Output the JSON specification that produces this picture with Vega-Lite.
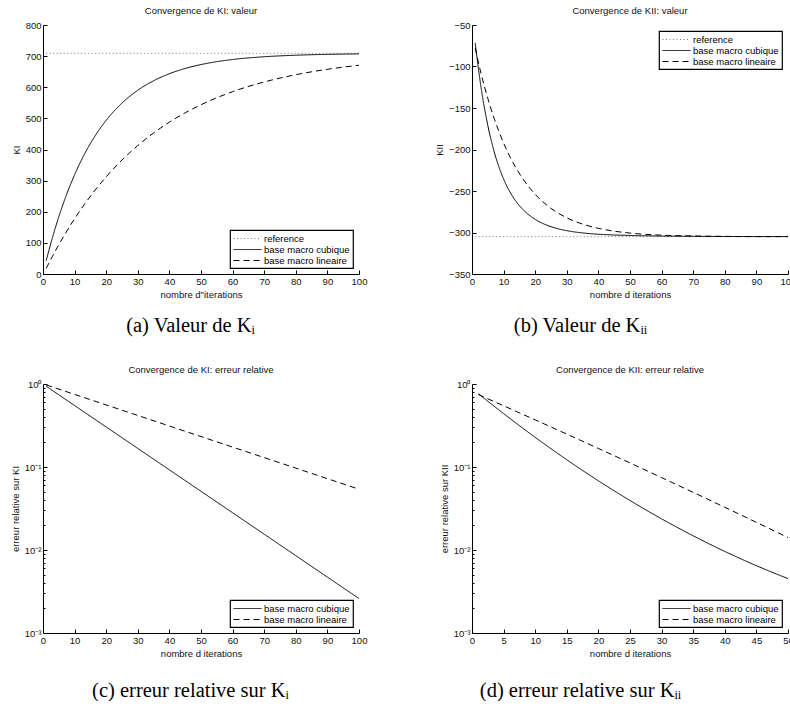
{
  "$schema": "https://vega.github.io/schema/vega-lite/v6.json",
  "padding": {"left": 10, "top": 5, "right": 0, "bottom": 0},
  "background": "#ffffff",
  "columns": 2,
  "spacing": {"row": 110, "column": 113},
  "bounds": "flush",
  "resolve": {"scale": {"color": "independent", "strokeDash": "independent"}, "legend": {"color": "independent", "strokeDash": "independent"}},
  "concat": [
    {
      "width": 316, "height": 249,
      "title": "Convergence de KI: valeur",
      "data": {"values": [
        {"it": 1, "v": 709, "s": "reference"}, {"it": 100, "v": 709, "s": "reference"},
        {"it": 1, "v": 42.5, "s": "base macro cubique"}, {"it": 3, "v": 117.3, "s": "base macro cubique"}, {"it": 5, "v": 183.7, "s": "base macro cubique"}, {"it": 7, "v": 242.6, "s": "base macro cubique"}, {"it": 10, "v": 318.9, "s": "base macro cubique"}, {"it": 13, "v": 382.6, "s": "base macro cubique"}, {"it": 16, "v": 436.0, "s": "base macro cubique"}, {"it": 20, "v": 493.8, "s": "base macro cubique"}, {"it": 25, "v": 549.2, "s": "base macro cubique"}, {"it": 30, "v": 590.3, "s": "base macro cubique"}, {"it": 35, "v": 620.8, "s": "base macro cubique"}, {"it": 40, "v": 643.5, "s": "base macro cubique"}, {"it": 45, "v": 660.4, "s": "base macro cubique"}, {"it": 50, "v": 672.9, "s": "base macro cubique"}, {"it": 55, "v": 682.2, "s": "base macro cubique"}, {"it": 60, "v": 689.1, "s": "base macro cubique"}, {"it": 70, "v": 698.0, "s": "base macro cubique"}, {"it": 80, "v": 702.9, "s": "base macro cubique"}, {"it": 90, "v": 705.7, "s": "base macro cubique"}, {"it": 100, "v": 707.2, "s": "base macro cubique"},
        {"it": 1, "v": 17.7, "s": "base macro lineaire"}, {"it": 3, "v": 57.0, "s": "base macro lineaire"}, {"it": 5, "v": 94.0, "s": "base macro lineaire"}, {"it": 7, "v": 128.9, "s": "base macro lineaire"}, {"it": 10, "v": 177.6, "s": "base macro lineaire"}, {"it": 13, "v": 222.2, "s": "base macro lineaire"}, {"it": 16, "v": 263.1, "s": "base macro lineaire"}, {"it": 20, "v": 312.3, "s": "base macro lineaire"}, {"it": 25, "v": 366.2, "s": "base macro lineaire"}, {"it": 30, "v": 412.8, "s": "base macro lineaire"}, {"it": 35, "v": 453.1, "s": "base macro lineaire"}, {"it": 40, "v": 487.9, "s": "base macro lineaire"}, {"it": 45, "v": 517.9, "s": "base macro lineaire"}, {"it": 50, "v": 543.9, "s": "base macro lineaire"}, {"it": 55, "v": 566.3, "s": "base macro lineaire"}, {"it": 60, "v": 585.8, "s": "base macro lineaire"}, {"it": 70, "v": 617.0, "s": "base macro lineaire"}, {"it": 80, "v": 640.3, "s": "base macro lineaire"}, {"it": 90, "v": 657.7, "s": "base macro lineaire"}, {"it": 100, "v": 670.7, "s": "base macro lineaire"}
      ]},
      "resolve": {"axis": {"x": "independent"}},
      "layer": [
        {
          "mark": {"type": "line", "strokeWidth": 1, "interpolate": "monotone"},
          "encoding": {
            "x": {"field": "it", "type": "quantitative", "scale": {"domain": [0, 100], "nice": false}, "axis": {"title": "nombre d\"iterations", "values": [0, 10, 20, 30, 40, 50, 60, 70, 80, 90, 100]}},
            "y": {"field": "v", "type": "quantitative", "scale": {"domain": [0, 800], "nice": false}, "axis": {"title": "KI", "values": [0, 100, 200, 300, 400, 500, 600, 700, 800]}},
            "strokeDash": {"field": "s", "type": "nominal", "scale": {"domain": ["reference", "base macro cubique", "base macro lineaire"], "range": [[1, 2.5], [1, 0], [6, 4]]}, "legend": {"orient": "bottom-right"}},
            "color": {"field": "s", "type": "nominal", "scale": {"domain": ["reference", "base macro cubique", "base macro lineaire"], "range": ["#777777", "#000000", "#000000"]}, "legend": {"orient": "bottom-right"}}
          }
        },
        {
          "mark": {"type": "point", "opacity": 0},
          "encoding": {
            "x": {"field": "it", "type": "quantitative", "axis": {"orient": "bottom", "title": "(a) Valeur de Kᵢ", "titleX": 147, "domain": false, "ticks": false, "labels": false, "titleFont": "Liberation Serif", "titleFontSize": 20.5, "titleColor": "#000000", "titlePadding": 41}}
          }
        }
      ]
    },
    {
      "width": 316, "height": 249,
      "title": "Convergence de KII: valeur",
      "data": {"values": [
        {"it": 1, "v": -305, "s": "reference"}, {"it": 100, "v": -305, "s": "reference"},
        {"it": 1, "v": -71.5, "s": "base macro cubique"}, {"it": 3, "v": -128.6, "s": "base macro cubique"}, {"it": 5, "v": -170.9, "s": "base macro cubique"}, {"it": 7, "v": -202.4, "s": "base macro cubique"}, {"it": 10, "v": -235.6, "s": "base macro cubique"}, {"it": 13, "v": -257.4, "s": "base macro cubique"}, {"it": 16, "v": -271.9, "s": "base macro cubique"}, {"it": 20, "v": -284.2, "s": "base macro cubique"}, {"it": 25, "v": -293.0, "s": "base macro cubique"}, {"it": 30, "v": -297.8, "s": "base macro cubique"}, {"it": 35, "v": -300.5, "s": "base macro cubique"}, {"it": 40, "v": -302.1, "s": "base macro cubique"}, {"it": 45, "v": -303.0, "s": "base macro cubique"}, {"it": 50, "v": -303.6, "s": "base macro cubique"}, {"it": 60, "v": -304.3, "s": "base macro cubique"}, {"it": 70, "v": -304.6, "s": "base macro cubique"}, {"it": 80, "v": -304.8, "s": "base macro cubique"}, {"it": 90, "v": -304.9, "s": "base macro cubique"}, {"it": 100, "v": -304.9, "s": "base macro cubique"},
        {"it": 1, "v": -77.9, "s": "base macro lineaire"}, {"it": 3, "v": -110.4, "s": "base macro lineaire"}, {"it": 5, "v": -138.4, "s": "base macro lineaire"}, {"it": 7, "v": -162.4, "s": "base macro lineaire"}, {"it": 10, "v": -192.2, "s": "base macro lineaire"}, {"it": 13, "v": -216.0, "s": "base macro lineaire"}, {"it": 16, "v": -234.8, "s": "base macro lineaire"}, {"it": 20, "v": -254.0, "s": "base macro lineaire"}, {"it": 25, "v": -270.9, "s": "base macro lineaire"}, {"it": 30, "v": -282.3, "s": "base macro lineaire"}, {"it": 35, "v": -289.9, "s": "base macro lineaire"}, {"it": 40, "v": -295.0, "s": "base macro lineaire"}, {"it": 45, "v": -298.4, "s": "base macro lineaire"}, {"it": 50, "v": -300.7, "s": "base macro lineaire"}, {"it": 60, "v": -303.2, "s": "base macro lineaire"}, {"it": 70, "v": -304.2, "s": "base macro lineaire"}, {"it": 80, "v": -304.7, "s": "base macro lineaire"}, {"it": 90, "v": -304.9, "s": "base macro lineaire"}, {"it": 100, "v": -304.9, "s": "base macro lineaire"}
      ]},
      "resolve": {"axis": {"x": "independent"}},
      "layer": [
        {
          "mark": {"type": "line", "strokeWidth": 1, "interpolate": "monotone"},
          "encoding": {
            "x": {"field": "it", "type": "quantitative", "scale": {"domain": [0, 100], "nice": false}, "axis": {"title": "nombre d iterations", "values": [0, 10, 20, 30, 40, 50, 60, 70, 80, 90, 100]}},
            "y": {"field": "v", "type": "quantitative", "scale": {"domain": [-350, -50], "nice": false}, "axis": {"title": "KII", "values": [-350, -300, -250, -200, -150, -100, -50]}},
            "strokeDash": {"field": "s", "type": "nominal", "scale": {"domain": ["reference", "base macro cubique", "base macro lineaire"], "range": [[1, 2.5], [1, 0], [6, 4]]}, "legend": {"orient": "top-right"}},
            "color": {"field": "s", "type": "nominal", "scale": {"domain": ["reference", "base macro cubique", "base macro lineaire"], "range": ["#777777", "#000000", "#000000"]}, "legend": {"orient": "top-right"}}
          }
        },
        {
          "mark": {"type": "point", "opacity": 0},
          "encoding": {
            "x": {"field": "it", "type": "quantitative", "axis": {"orient": "bottom", "title": "(b) Valeur de Kᵢᵢ", "titleX": 108, "domain": false, "ticks": false, "labels": false, "titleFont": "Liberation Serif", "titleFontSize": 20.5, "titleColor": "#000000", "titlePadding": 41}}
          }
        }
      ]
    },
    {
      "width": 316, "height": 249,
      "title": "Convergence de KI: erreur relative",
      "data": {"values": [
        {"it": 1, "v": 0.94, "s": "base macro cubique"}, {"it": 10, "v": 0.5503, "s": "base macro cubique"}, {"it": 20, "v": 0.3035, "s": "base macro cubique"}, {"it": 30, "v": 0.1674, "s": "base macro cubique"}, {"it": 40, "v": 0.09234, "s": "base macro cubique"}, {"it": 50, "v": 0.05094, "s": "base macro cubique"}, {"it": 60, "v": 0.0281, "s": "base macro cubique"}, {"it": 70, "v": 0.0155, "s": "base macro cubique"}, {"it": 80, "v": 0.00855, "s": "base macro cubique"}, {"it": 90, "v": 0.004716, "s": "base macro cubique"}, {"it": 100, "v": 0.0026, "s": "base macro cubique"},
        {"it": 1, "v": 0.975, "s": "base macro lineaire"}, {"it": 10, "v": 0.7495, "s": "base macro lineaire"}, {"it": 20, "v": 0.5595, "s": "base macro lineaire"}, {"it": 30, "v": 0.4178, "s": "base macro lineaire"}, {"it": 40, "v": 0.3119, "s": "base macro lineaire"}, {"it": 50, "v": 0.2328, "s": "base macro lineaire"}, {"it": 60, "v": 0.1738, "s": "base macro lineaire"}, {"it": 70, "v": 0.1298, "s": "base macro lineaire"}, {"it": 80, "v": 0.0969, "s": "base macro lineaire"}, {"it": 90, "v": 0.07233, "s": "base macro lineaire"}, {"it": 100, "v": 0.054, "s": "base macro lineaire"}
      ]},
      "resolve": {"axis": {"x": "independent"}},
      "layer": [
        {
          "mark": {"type": "line", "strokeWidth": 1},
          "encoding": {
            "x": {"field": "it", "type": "quantitative", "scale": {"domain": [0, 100], "nice": false}, "axis": {"title": "nombre d iterations", "values": [0, 10, 20, 30, 40, 50, 60, 70, 80, 90, 100]}},
            "y": {"field": "v", "type": "quantitative", "scale": {"type": "log", "domain": [0.001, 1], "nice": false}, "axis": {"title": "erreur relative sur KI", "values": [0.001, 0.002, 0.003, 0.004, 0.005, 0.006, 0.007, 0.008, 0.009, 0.01, 0.02, 0.03, 0.04, 0.05, 0.06, 0.07, 0.08, 0.09, 0.1, 0.2, 0.3, 0.4, 0.5, 0.6, 0.7, 0.8, 0.9, 1], "labelExpr": "datum.value > 0.99 ? '10⁰' : (datum.value > 0.099 && datum.value < 0.101) ? '10⁻¹' : (datum.value > 0.0099 && datum.value < 0.0101) ? '10⁻²' : (datum.value > 0.00099 && datum.value < 0.00101) ? '10⁻³' : ''", "tickSize": {"condition": {"test": "datum.value > 0.99 || (datum.value > 0.099 && datum.value < 0.101) || (datum.value > 0.0099 && datum.value < 0.0101) || (datum.value > 0.00099 && datum.value < 0.00101)", "value": -4}, "value": -2}}},
            "strokeDash": {"field": "s", "type": "nominal", "scale": {"domain": ["base macro cubique", "base macro lineaire"], "range": [[1, 0], [6, 4]]}, "legend": {"orient": "bottom-right"}},
            "color": {"field": "s", "type": "nominal", "scale": {"domain": ["base macro cubique", "base macro lineaire"], "range": ["#000000", "#000000"]}, "legend": {"orient": "bottom-right"}}
          }
        },
        {
          "mark": {"type": "point", "opacity": 0},
          "encoding": {
            "x": {"field": "it", "type": "quantitative", "axis": {"orient": "bottom", "title": "(c) erreur relative sur Kᵢ", "titleX": 147, "domain": false, "ticks": false, "labels": false, "titleFont": "Liberation Serif", "titleFontSize": 20.5, "titleColor": "#000000", "titlePadding": 47}}
          }
        }
      ]
    },
    {
      "width": 316, "height": 249,
      "title": "Convergence de KII: erreur relative",
      "data": {"values": [
        {"it": 1, "v": 0.7656, "s": "base macro cubique"}, {"it": 3, "v": 0.5785, "s": "base macro cubique"}, {"it": 5, "v": 0.4396, "s": "base macro cubique"}, {"it": 7, "v": 0.3363, "s": "base macro cubique"}, {"it": 10, "v": 0.2275, "s": "base macro cubique"}, {"it": 13, "v": 0.156, "s": "base macro cubique"}, {"it": 16, "v": 0.1084, "s": "base macro cubique"}, {"it": 20, "v": 0.06818, "s": "base macro cubique"}, {"it": 25, "v": 0.03948, "s": "base macro cubique"}, {"it": 30, "v": 0.02374, "s": "base macro cubique"}, {"it": 35, "v": 0.01483, "s": "base macro cubique"}, {"it": 40, "v": 0.00961, "s": "base macro cubique"}, {"it": 45, "v": 0.00647, "s": "base macro cubique"}, {"it": 50, "v": 0.00452, "s": "base macro cubique"},
        {"it": 1, "v": 0.7447, "s": "base macro lineaire"}, {"it": 3, "v": 0.6381, "s": "base macro lineaire"}, {"it": 5, "v": 0.5464, "s": "base macro lineaire"}, {"it": 7, "v": 0.4675, "s": "base macro lineaire"}, {"it": 10, "v": 0.3697, "s": "base macro lineaire"}, {"it": 13, "v": 0.2918, "s": "base macro lineaire"}, {"it": 16, "v": 0.2301, "s": "base macro lineaire"}, {"it": 20, "v": 0.1673, "s": "base macro lineaire"}, {"it": 25, "v": 0.1119, "s": "base macro lineaire"}, {"it": 30, "v": 0.07452, "s": "base macro lineaire"}, {"it": 35, "v": 0.04947, "s": "base macro lineaire"}, {"it": 40, "v": 0.0327, "s": "base macro lineaire"}, {"it": 45, "v": 0.02153, "s": "base macro lineaire"}, {"it": 50, "v": 0.01413, "s": "base macro lineaire"}
      ]},
      "resolve": {"axis": {"x": "independent"}},
      "layer": [
        {
          "mark": {"type": "line", "strokeWidth": 1, "interpolate": "monotone"},
          "encoding": {
            "x": {"field": "it", "type": "quantitative", "scale": {"domain": [0, 50], "nice": false}, "axis": {"title": "nombre d iterations", "values": [0, 5, 10, 15, 20, 25, 30, 35, 40, 45, 50]}},
            "y": {"field": "v", "type": "quantitative", "scale": {"type": "log", "domain": [0.001, 1], "nice": false}, "axis": {"title": "erreur relative sur KII", "values": [0.001, 0.002, 0.003, 0.004, 0.005, 0.006, 0.007, 0.008, 0.009, 0.01, 0.02, 0.03, 0.04, 0.05, 0.06, 0.07, 0.08, 0.09, 0.1, 0.2, 0.3, 0.4, 0.5, 0.6, 0.7, 0.8, 0.9, 1], "labelExpr": "datum.value > 0.99 ? '10⁰' : (datum.value > 0.099 && datum.value < 0.101) ? '10⁻¹' : (datum.value > 0.0099 && datum.value < 0.0101) ? '10⁻²' : (datum.value > 0.00099 && datum.value < 0.00101) ? '10⁻³' : ''", "tickSize": {"condition": {"test": "datum.value > 0.99 || (datum.value > 0.099 && datum.value < 0.101) || (datum.value > 0.0099 && datum.value < 0.0101) || (datum.value > 0.00099 && datum.value < 0.00101)", "value": -4}, "value": -2}}},
            "strokeDash": {"field": "s", "type": "nominal", "scale": {"domain": ["base macro cubique", "base macro lineaire"], "range": [[1, 0], [6, 4]]}, "legend": {"orient": "bottom-right"}},
            "color": {"field": "s", "type": "nominal", "scale": {"domain": ["base macro cubique", "base macro lineaire"], "range": ["#000000", "#000000"]}, "legend": {"orient": "bottom-right"}}
          }
        },
        {
          "mark": {"type": "point", "opacity": 0},
          "encoding": {
            "x": {"field": "it", "type": "quantitative", "axis": {"orient": "bottom", "title": "(d) erreur relative sur Kᵢᵢ", "titleX": 108, "domain": false, "ticks": false, "labels": false, "titleFont": "Liberation Serif", "titleFontSize": 20.5, "titleColor": "#000000", "titlePadding": 47}}
          }
        }
      ]
    }
  ],
  "config": {
    "view": {"stroke": null},
    "axis": {"domainColor": "#000000", "domainWidth": 1, "tickColor": "#000000", "tickWidth": 1, "tickSize": -4, "labelFont": "Liberation Sans", "labelFontSize": 9.5, "labelColor": "#111111", "titleFont": "Liberation Sans", "titleFontSize": 9.5, "titleFontWeight": "normal", "titleColor": "#111111", "titlePadding": 4, "grid": false, "labelFlush": false, "labelOverlap": false},
    "axisX": {"labelPadding": 6},
    "axisY": {"labelPadding": 6},
    "title": {"font": "Liberation Sans", "fontSize": 9.5, "fontWeight": "normal", "color": "#111111", "offset": 5, "anchor": "middle"},
    "legend": {"title": null, "offset": 6, "strokeColor": "#000000", "strokeWidth": 1.2, "fillColor": "#ffffff", "padding": 3, "symbolType": "M-2.8,0H2.8", "symbolSize": 100, "symbolStrokeWidth": 1, "symbolOffset": 9, "labelFont": "Liberation Sans", "labelFontSize": 9.5, "labelColor": "#000000", "labelOffset": 11, "rowPadding": 1, "labelLimit": 200}
  }
}
